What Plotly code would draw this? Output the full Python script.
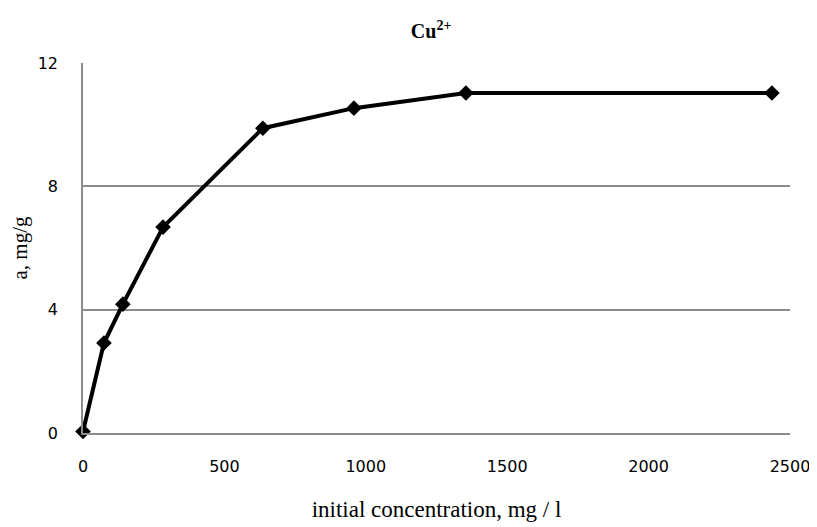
import plotly.graph_objects as go

concentration = [0, 74, 141, 283, 636, 958, 1354, 2436]
adsorption = [0.05, 2.92, 4.18, 6.68, 9.89, 10.54, 11.03, 11.03]

x_ticks = [0, 500, 1000, 1500, 2000, 2500]
y_ticks = [0, 4, 8, 12]

GRID = "#8c8c8c"

fig = go.Figure()
fig.add_trace(go.Scatter(
    x=concentration, y=adsorption, mode="lines+markers",
    line=dict(color="black", width=4),
    marker=dict(symbol="diamond", size=12, color="black"),
    showlegend=False, cliponaxis=False,
))

# page body adds an 8px margin, so the figure is 8px smaller than the window
fig.update_layout(
    width=809, height=519,
    margin=dict(l=75, r=27, t=55, b=94, autoexpand=False),
    paper_bgcolor="white", plot_bgcolor="white",
    title=dict(text="<b>Cu<sup>2+</sup></b>", x=0.523, xanchor="center", y=0.955, yanchor="middle",
               font=dict(family="Liberation Serif", size=20, color="black")),
    xaxis=dict(range=[0, 2500], tickvals=x_ticks, showgrid=False, zeroline=False,
               showline=True, linecolor=GRID, linewidth=1.5, ticks="", automargin=False,
               ticklabelstandoff=18,
               tickfont=dict(family="DejaVu Sans", size=16, color="black"),
               title=dict(text="initial concentration, mg / l", standoff=26,
                          font=dict(family="Liberation Serif", size=23, color="black"))),
    yaxis=dict(range=[0, 12.005], tickvals=y_ticks, showgrid=True, gridcolor=GRID, gridwidth=1.5,
               zeroline=False, showline=True, linecolor=GRID, linewidth=1.5, ticks="", automargin=False,
               ticklabelstandoff=20,
               tickfont=dict(family="DejaVu Sans", size=16, color="black"),
               title=dict(text="a, mg/g", standoff=14,
                          font=dict(family="Liberation Serif", size=21, color="black"))),
)
fig.write_html("out.html")
